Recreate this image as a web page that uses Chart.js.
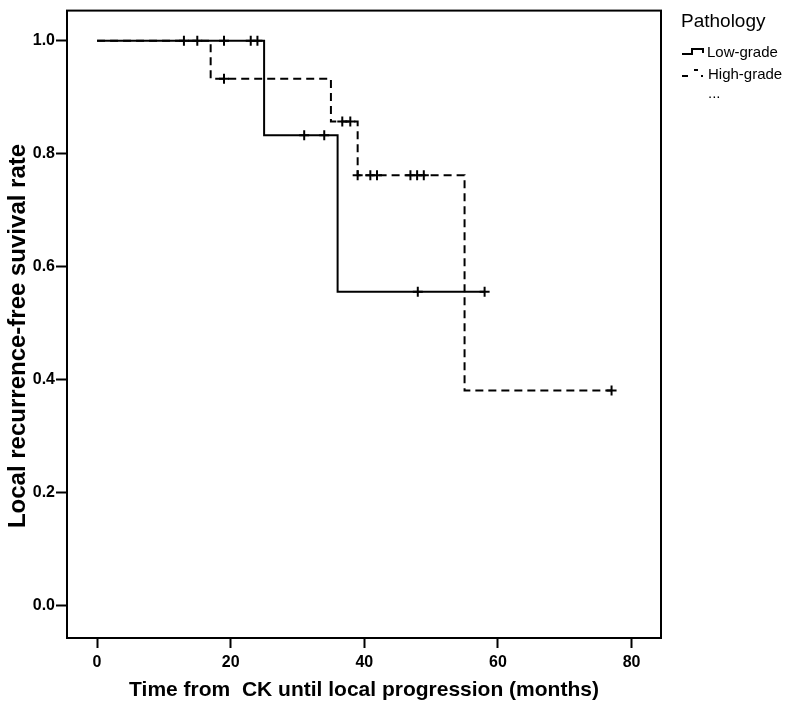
<!DOCTYPE html>
<html>
<head>
<meta charset="utf-8">
<script src="https://cdn.jsdelivr.net/npm/chart.js@4.4.1/dist/chart.umd.min.js"></script>
<style>
  html, body { margin: 0; padding: 0; background: #fff; }
  #wrap { width: 787px; height: 707px; position: relative; }
</style>
</head>
<body>
<div id="wrap"><canvas id="c" width="787" height="707"></canvas></div>
<script>
// ---- data ----
const xTicks = [0, 20, 40, 60, 80];
const yTicks = [0.0, 0.2, 0.4, 0.6, 0.8, 1.0];

const groupNames = ["Low-grade", "High-grade"];

// Kaplan-Meier step points (time in months, survival)
const lowTimes = [0, 25, 36, 58];
const lowSurv  = [1.0, 0.833, 0.556, 0.556];
const lowCensorTimes = [13, 15, 19, 23, 24, 31, 34, 48, 58];
const lowCensorSurv  = [1.0, 1.0, 1.0, 1.0, 1.0, 0.833, 0.833, 0.556, 0.556];

const highTimes = [0, 17, 35, 39, 55, 77];
const highSurv  = [1.0, 0.933, 0.857, 0.762, 0.381, 0.381];
const highCensorTimes = [19, 36.7, 37.9, 39, 40.9, 41.9, 46.9, 47.9, 48.9, 77];
const highCensorSurv  = [0.933, 0.857, 0.857, 0.762, 0.762, 0.762, 0.762, 0.762, 0.762, 0.381];

const xTitle = "Time from  CK until local progression (months)";
const yTitle = "Local recurrence-free suvival rate";
const legendTitle = "Pathology";

function pts(xs, ys) { return xs.map((x, i) => ({ x: x, y: ys[i] })); }

const framePlugin = {
  id: 'frame',
  afterDatasetsDraw(chart) {
    const { ctx, chartArea: a } = chart;
    ctx.save();
    ctx.strokeStyle = '#000';
    ctx.lineWidth = 2;
    ctx.strokeRect(a.left, a.top, a.right - a.left, a.bottom - a.top);
    ctx.restore();
  }
};

const textPlugin = {
  id: 'kmText',
  afterDraw(chart) {
    const ctx = chart.ctx;
    ctx.save();
    ctx.fillStyle = '#000';
    // y axis title
    ctx.save();
    ctx.translate(25, 336);
    ctx.rotate(-Math.PI / 2);
    ctx.textAlign = 'center';
    ctx.textBaseline = 'alphabetic';
    ctx.font = 'bold 24px "Liberation Sans", Arial, sans-serif';
    ctx.fillText(yTitle, 0, 0);
    ctx.restore();
    // legend
    ctx.textBaseline = 'alphabetic';
    ctx.textAlign = 'left';
    ctx.font = '19px "Liberation Sans", Arial, sans-serif';
    ctx.fillText(legendTitle, 681, 27);
    ctx.font = '15px "Liberation Sans", Arial, sans-serif';
    ctx.strokeStyle = '#000';
    ctx.lineWidth = 2;
    ctx.beginPath();
    ctx.moveTo(682, 54);
    ctx.lineTo(692, 54);
    ctx.lineTo(692, 49);
    ctx.lineTo(703, 49);
    ctx.lineTo(703, 53);
    ctx.stroke();
    ctx.fillText(groupNames[0], 707, 57);
    ctx.beginPath();
    ctx.moveTo(682, 76); ctx.lineTo(688, 76);
    ctx.moveTo(694, 70); ctx.lineTo(698, 70);
    ctx.stroke();
    ctx.fillRect(701, 75, 2, 2);
    ctx.fillText(groupNames[1], 708, 79);
    ctx.fillText('...', 708, 98);
    ctx.restore();
  }
};

const tickFont = { family: '"Liberation Sans", Arial, sans-serif', size: 16, weight: 'bold' };

new Chart(document.getElementById('c'), {
  type: 'scatter',
  data: {
    datasets: [
      {
        label: groupNames[1],
        data: pts(highTimes, highSurv),
        showLine: true, stepped: 'before',
        borderColor: '#000', borderWidth: 2, borderDash: [8, 5],
        pointRadius: 0, fill: false
      },
      {
        label: groupNames[0],
        data: pts(lowTimes, lowSurv),
        showLine: true, stepped: 'before',
        borderColor: '#000', borderWidth: 2,
        pointRadius: 0, fill: false
      },
      {
        label: groupNames[1] + ' censored',
        data: pts(highCensorTimes, highCensorSurv),
        showLine: false, pointStyle: 'cross', pointRadius: 5,
        borderColor: '#000', pointBorderWidth: 2, backgroundColor: '#000'
      },
      {
        label: groupNames[0] + ' censored',
        data: pts(lowCensorTimes, lowCensorSurv),
        showLine: false, pointStyle: 'cross', pointRadius: 5,
        borderColor: '#000', pointBorderWidth: 2, backgroundColor: '#000'
      }
    ]
  },
  options: {
    responsive: false,
    animation: false,
    events: [],
    layout: { padding: { top: 3, right: 126, bottom: 0, left: 0 } },
    plugins: { legend: { display: false }, tooltip: { enabled: false } },
    scales: {
      x: {
        type: 'linear', min: -4.5, max: 84.4,
        afterBuildTicks(s) { s.ticks = xTicks.map(v => ({ value: v })); },
        afterFit(s) { s.height = 69; },
        grid: { drawOnChartArea: false, drawTicks: true, tickLength: 10, tickWidth: 2, tickColor: '#000' },
        border: { display: true, color: '#000', width: 2 },
        ticks: { color: '#000', font: tickFont, padding: 5, maxRotation: 0, callback: v => String(v) },
        title: { display: true, text: xTitle, color: '#000', padding: { top: 0, bottom: 4 },
                 font: { family: '"Liberation Sans", Arial, sans-serif', size: 21, weight: 'bold' } }
      },
      y: {
        type: 'linear', min: -0.057, max: 1.0535,
        afterBuildTicks(s) { s.ticks = yTicks.map(v => ({ value: v })); },
        afterFit(s) { s.width = 67; },
        grid: { drawOnChartArea: false, drawTicks: true, tickLength: 11, tickWidth: 2, tickColor: '#000' },
        border: { display: true, color: '#000', width: 2 },
        ticks: { color: '#000', font: tickFont, padding: 1, callback: v => v.toFixed(1) },
        title: { display: false }
      }
    }
  },
  plugins: [framePlugin, textPlugin]
});
</script>
</body>
</html>
